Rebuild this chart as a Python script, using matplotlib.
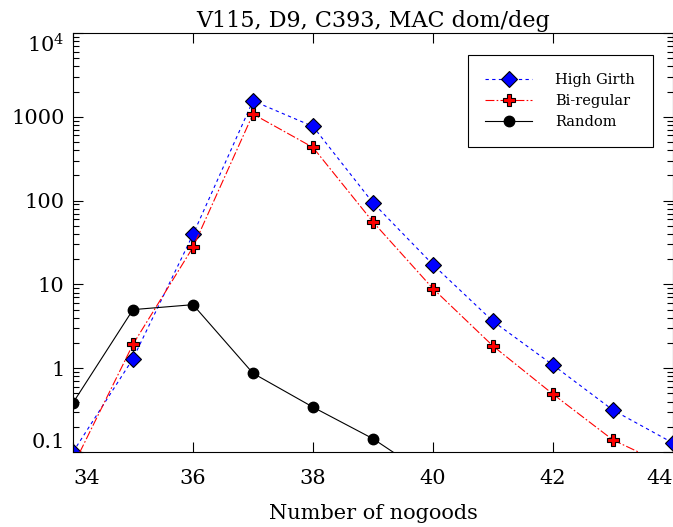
import numpy as np
import matplotlib
matplotlib.use("Agg")
import matplotlib.pyplot as plt
from matplotlib.ticker import FixedLocator, FixedFormatter, LogLocator, NullFormatter

plt.rcParams['font.family'] = ['DejaVu Serif']
plt.rcParams['mathtext.fontset'] = 'dejavuserif'

# data
nogoods = [34, 35, 36, 37, 38, 39, 40, 41, 42, 43, 44]
high_girth = [0.1, 1.30, 39.4, 1550, 767, 94, 17.2, 3.63, 1.09, 0.316, 0.128]
bi_regular = [0.068, 1.93, 27.8, 1078, 431, 55.6, 8.9, 1.84, 0.49, 0.139, 0.064]
random_x = [34, 35, 36, 37, 38, 39, 40]
random_y = [0.386, 5.0, 5.73, 0.87, 0.343, 0.144, 0.048]

x_ticks = [34, 36, 38, 40, 42, 44]
y_ticks = [0.1, 1, 10, 100, 1000, 1e4]
y_labels = ['0.1', '1', '10', '100', '1000', r'$10^4$']

fig = plt.figure(figsize=(6.73, 5.27), dpi=100)
ax = fig.add_axes([73 / 673, 1 - 452 / 527, 600 / 673, (452 - 33) / 527])

ax.plot(nogoods, high_girth, color='blue', linestyle=(0, (3, 3)), lw=0.8,
        marker='D', markersize=8, markerfacecolor='blue', markeredgecolor='black',
        markeredgewidth=0.8, label='High Girth')
ax.plot(nogoods, bi_regular, color='red', linestyle=(0, (8, 2, 1.5, 2)), lw=0.8,
        marker='P', markersize=9, markerfacecolor='red', markeredgecolor='black',
        markeredgewidth=0.8, label='Bi-regular')
ax.plot(random_x, random_y, color='black', linestyle='-', lw=0.8,
        marker='o', markersize=7.5, markerfacecolor='black', markeredgecolor='black',
        label='Random')

ax.set_yscale('log')
ax.set_xlim(34, 44)
ax.set_ylim(0.1, 1e4)

ax.xaxis.set_major_locator(FixedLocator(x_ticks))
ax.yaxis.set_major_locator(FixedLocator(y_ticks))
ax.yaxis.set_major_formatter(FixedFormatter(y_labels))
ax.yaxis.set_minor_locator(LogLocator(base=10, subs=np.arange(2, 10)))
ax.yaxis.set_minor_formatter(NullFormatter())
ax.tick_params(which='both', direction='in', top=True, right=True, labelsize=15)
ax.tick_params(which='major', length=7, width=0.8)
ax.tick_params(which='minor', length=4, width=0.8)
ax.tick_params(axis='x', pad=12)
ax.tick_params(axis='y', pad=6)

# edge labels pulled inward like the reference
xl = ax.get_xticklabels()
xl[0].set_ha('left')
xl[-1].set_ha('right')
yl = ax.get_yticklabels()
yl[0].set_va('bottom')
yl[-1].set_va('top')

ax.set_title('V115, D9, C393, MAC dom/deg', fontsize=16, pad=4)
ax.set_xlabel('Number of nogoods', fontsize=15, labelpad=12)

leg = ax.legend(loc='upper right', bbox_to_anchor=(0.966, 0.947), fontsize=10.5,
                fancybox=False, edgecolor='black', framealpha=1,
                handlelength=3.2, borderpad=1.2, labelspacing=0.5,
                handletextpad=1.6, borderaxespad=0)
leg.get_frame().set_linewidth(0.8)

fig.savefig('out.png', dpi=100)
